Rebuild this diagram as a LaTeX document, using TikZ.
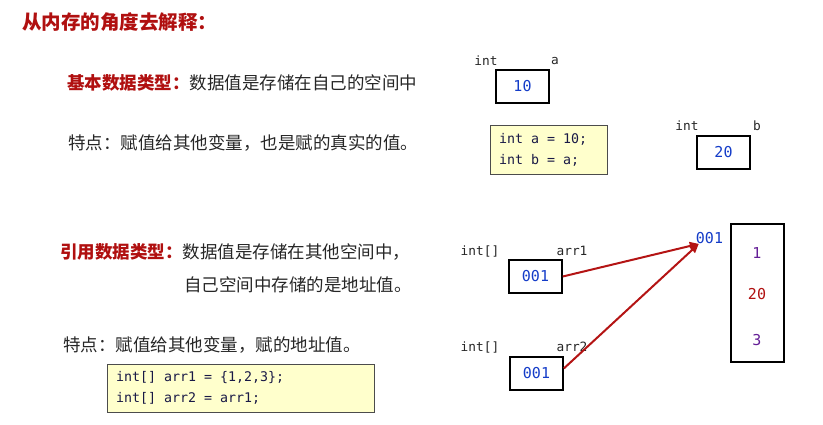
\documentclass[tikz,border=0pt]{standalone}
\usepackage{fontspec}
\usepackage{xcolor}
\usepackage{tikz}
\usetikzlibrary{arrows.meta,positioning}
\newfontfamily\cjk{Noto Sans CJK SC}
\setmonofont{DejaVu Sans Mono}
\definecolor{titlered}{RGB}{176,16,16}
\definecolor{valblue}{RGB}{20,60,200}
\definecolor{valpurple}{RGB}{100,30,150}
\definecolor{arrowred}{RGB}{180,20,20}
\definecolor{codeink}{RGB}{25,25,70}
\definecolor{codefill}{RGB}{255,255,204}
\newcommand{\hl}[1]{\textcolor{titlered}{\bfseries #1}}
\newcommand{\msp}{\hspace*{0.602em}}

\begin{document}
\begin{tikzpicture}[x=1pt, y=-1pt,
    every node/.style={inner sep=0pt, text=black!85},
    txt/.style={anchor=west, font=\cjk\fontsize{17.5}{20}\selectfont},
    lbl/.style={font=\ttfamily\fontsize{12.8}{14}\selectfont},
    cell/.style={draw=black, line width=1.6pt, minimum width=53pt, minimum height=33pt,
      font=\ttfamily\fontsize{15}{16}\selectfont, text=valblue},
    codebox/.style={draw=black!70, fill=codefill, inner xsep=9pt, align=left,
      text=codeink, font=\ttfamily\fontsize{13.3}{21}\selectfont},
    ptr/.style={draw=arrowred, line width=2pt, -{Triangle[length=9pt,width=8pt]}}]
  \useasboundingbox (0,0) rectangle (823,425);

  % left column: explanation
  \node[txt, font=\cjk\bfseries\fontsize{19.5}{21}\selectfont, text=titlered] (title) at (22,22) {从内存的角度去解释：};
  \node[txt] (basic) at (67,83) {\hl{基本数据类型：}数据值是存储在自己的空间中};
  \node[txt] (feat1) at (68,143) {特点：赋值给其他变量，也是赋的真实的值。};
  \node[txt] (ref1) at (60,252) {\hl{引用数据类型：}数据值是存储在其他空间中，};
  \node[txt] (ref2) at (184,285) {自己空间中存储的是地址值。};
  \node[txt] (feat2) at (63,345) {特点：赋值给其他变量，赋的地址值。};
  \node[codebox, text width=249pt, minimum height=48pt] (code2) at (240.5,388)
    {int[]\msp arr1\msp=\msp\{1,2,3\};\\int[]\msp arr2\msp=\msp arr1;};

  % basic types
  \node[lbl] (inta) at (486,61) {int};
  \node[lbl] (namea) at (555,61) {a};
  \node[cell] (boxa) at (522.5,86.5) {10};
  \node[codebox, text width=99pt, minimum height=49pt] (code1) at (548.5,149.5)
    {int\msp a\msp=\msp 10;\\int\msp b\msp=\msp a;};
  \node[lbl] (intb) at (687,126) {int};
  \node[lbl] (nameb) at (757,126) {b};
  \node[cell] (boxb) at (723.5,152.5) {20};

  % reference types
  \node[lbl] (intarr1) at (480,251) {int[]};
  \node[lbl] (namearr1) at (572,251) {arr1};
  \node[cell] (boxarr1) at (535.5,276.5) {001};
  \node[lbl] (intarr2) at (480,347) {int[]};
  \node[lbl] (namearr2) at (572,347) {arr2};
  \node[cell] (boxarr2) at (536.5,373.5) {001};

  \node[font=\ttfamily\fontsize{15}{16}\selectfont, text=valblue] (addr) at (709.5,238) {001};
  \node[draw=black, line width=1.6pt, minimum width=53pt, minimum height=138pt] (arr) at (757.5,293) {};
  \node[font=\ttfamily\fontsize{15}{16}\selectfont, text=valpurple] (v1) at (757,253) {1};
  \node[font=\ttfamily\fontsize{15}{16}\selectfont, text=titlered] (v2) at (757,294) {20};
  \node[font=\ttfamily\fontsize{15}{16}\selectfont, text=valpurple] (v3) at (757,340) {3};

  \draw[ptr] (boxarr1.east) -- ([xshift=3pt]addr.south west);
  \draw[ptr] ([yshift=5pt]boxarr2.east) -- ([xshift=3pt]addr.south west);
\end{tikzpicture}
\end{document}
